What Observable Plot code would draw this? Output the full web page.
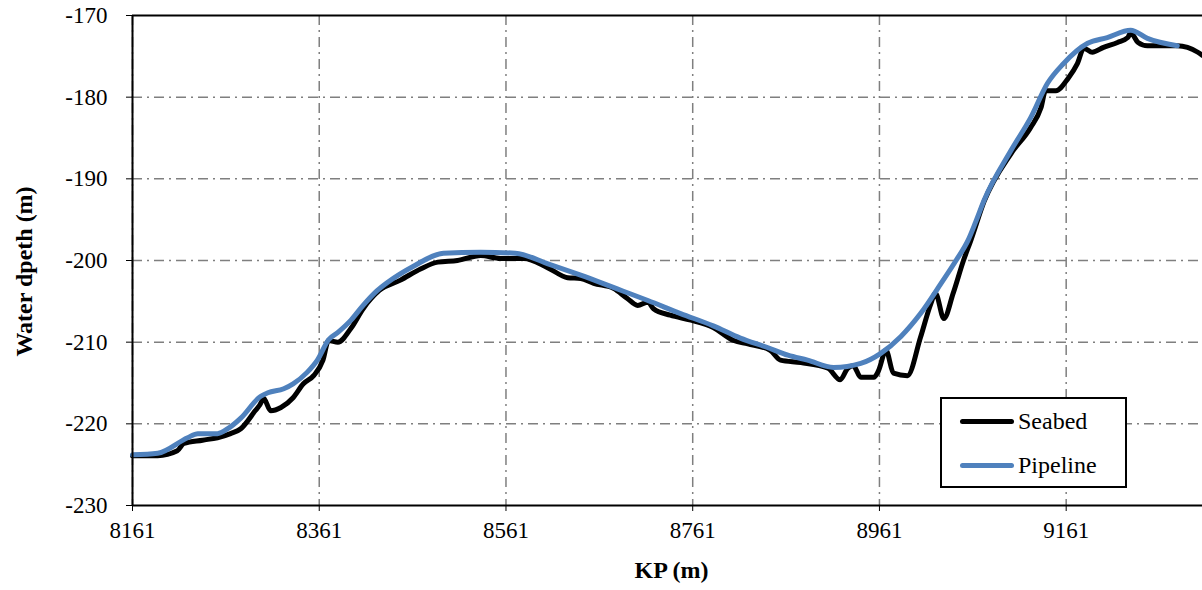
<!DOCTYPE html>
<html><head><meta charset="utf-8">
<script src="https://cdn.jsdelivr.net/npm/d3@7"></script>
<script src="https://cdn.jsdelivr.net/npm/@observablehq/plot@0.6"></script>
<style>
body{margin:0;background:#fff;font-family:"Liberation Serif","Times New Roman",Tinos,"DejaVu Serif",serif;}
#wrap{position:relative;width:1202px;height:590px;}
#wrap svg, #wrap svg g, #wrap svg text{font-family:"Liberation Serif","Times New Roman",Tinos,"DejaVu Serif",serif !important;}
#wrap svg g[aria-label="x-axis tick label"], #wrap svg g[aria-label="y-axis tick label"]{font-size:23px !important;}
#wrap svg g[aria-label="x-axis tick label"] text, #wrap svg g[aria-label="y-axis tick label"] text{font-size:23px !important;fill:#000;}
#legend{position:absolute;left:940px;top:397px;width:183px;height:87px;border:2px solid #000;background:#fff;font-size:24px;}
.item{position:absolute;left:18px;height:30px;line-height:30px;display:flex;align-items:center;}
.sw{width:54px;height:5px;border-radius:3px;margin-right:4px;}
</style></head>
<body><div id="wrap"></div>
<script>
const seabedKP = [8161,8188,8209,8216,8236,8252,8266,8277,8291,8300,8301,8309,8320,8333,8344,8355,8365,8371,8381,8395,8408,8425,8448,8470,8488,8509,8534,8555,8580,8606,8627,8641,8655,8676,8691,8702,8713,8719,8737,8759,8783,8805,8820,8844,8855,8877,8906,8919,8927,8933,8941,8955,8960,8968,8976,8991,9005,9016,9021,9030,9040,9051,9059,9073,9102,9123,9134,9139,9150,9163,9173,9180,9189,9201,9216,9227,9230,9238,9248,9280,9302,9307];
const seabedDepth = [-223.9,-223.9,-223.3,-222.4,-222.0,-221.7,-221.2,-220.6,-218.6,-217.1,-216.8,-218.4,-218.0,-216.8,-215.1,-214.1,-212.2,-209.8,-210.0,-208.3,-205.9,-203.7,-202.4,-201.0,-200.2,-200.0,-199.4,-199.75,-199.75,-200.9,-202.1,-202.2,-202.8,-203.4,-204.65,-205.5,-205.1,-205.9,-206.7,-207.3,-208.2,-209.8,-210.2,-211.0,-212.2,-212.5,-213.2,-214.6,-213.2,-212.9,-214.3,-214.3,-213.5,-211.0,-213.8,-214.1,-209.4,-205.3,-204.0,-207.1,-204.0,-200.0,-197.5,-192.8,-186.9,-183.7,-181.3,-179.2,-179.2,-177.7,-175.9,-174.0,-174.5,-173.9,-173.3,-172.7,-172.1,-173.3,-173.7,-173.7,-174.5,-174.9];
const pipeKP = [8161,8188,8220,8231,8252,8263,8277,8298,8306,8323,8333,8348,8359,8371,8381,8395,8408,8423,8434,8462,8494,8534,8571,8606,8641,8676,8713,8748,8783,8812,8841,8863,8884,8912,8941,8962,8984,9005,9027,9043,9056,9064,9073,9102,9123,9141,9158,9184,9205,9230,9248,9280];
const pipeDepth = [-223.8,-223.6,-221.7,-221.2,-221.2,-220.6,-219.3,-216.65,-216.2,-215.7,-215.1,-213.7,-212.2,-209.7,-208.8,-207.3,-205.5,-203.7,-202.7,-200.7,-199.1,-199.0,-199.1,-200.4,-201.8,-203.3,-204.9,-206.5,-208.0,-209.5,-210.65,-211.6,-212.2,-213.1,-212.6,-211.4,-209.3,-206.5,-202.8,-200.0,-197.5,-195.3,-192.65,-186.5,-182.5,-178.3,-175.9,-173.4,-172.7,-171.8,-172.8,-173.7];
const xTicks = [8161,8361,8561,8761,8961,9161];
const yTicks = [-230,-220,-210,-200,-190,-180,-170];

const seabed = seabedKP.map((k,i)=>({kp:k, d:seabedDepth[i]}));
const pipe = pipeKP.map((k,i)=>({kp:k, d:pipeDepth[i]}));

const font = '"Liberation Serif","Times New Roman",Tinos,"DejaVu Serif",serif';
const chart = Plot.plot({
  width:1202, height:590,
  marginLeft:132, marginRight:0, marginTop:15, marginBottom:85,
  x:{domain:[8161,9307]},
  y:{domain:[-230,-170]},
  marks:[
    Plot.gridX(xTicks,{stroke:"#7f7f7f",strokeOpacity:1,strokeWidth:1.5,strokeDasharray:"10,5,2,5"}),
    Plot.gridY(yTicks.slice(1,-1),{stroke:"#7f7f7f",strokeOpacity:1,strokeWidth:1.5,strokeDasharray:"10,5,2,5"}),
    Plot.axisX(xTicks,{tickSize:6,tickPadding:10,label:null,fontSize:23,fill:"#000",tickFormat:d=>String(d)}),
    Plot.axisY(yTicks,{tickSize:6,tickPadding:19,label:null,fontSize:23,fill:"#000",tickFormat:d=>String(d)}),
    Plot.line(seabed,{x:"kp",y:"d",stroke:"#000",strokeWidth:5,curve:"monotone-x"}),
    Plot.line(pipe,{x:"kp",y:"d",stroke:"#4f81bd",strokeWidth:5,curve:"monotone-x"}),
    Plot.ruleX([8161],{stroke:"#000",strokeWidth:2}),
    Plot.ruleY([-230,-170],{stroke:"#000",strokeWidth:2}),
    Plot.text(["Water dpeth (m)"],{frameAnchor:"left",textAnchor:"middle",rotate:-90,dx:-108,dy:11,fontWeight:"bold",fontSize:24,fontFamily:font,fill:"#000"}),
    Plot.text(["KP (m)"],{frameAnchor:"bottom",textAnchor:"middle",dx:4,dy:72,fontWeight:"bold",fontSize:24,fontFamily:font,fill:"#000"})
  ]
});
const wrap = document.getElementById("wrap");
wrap.appendChild(chart);
const legend = document.createElement("div");
legend.id = "legend";
legend.innerHTML = '<div class="item" style="top:7px"><div class="sw" style="background:#000"></div><span>Seabed</span></div>'+
  '<div class="item" style="top:51px"><div class="sw" style="background:#4f81bd"></div><span>Pipeline</span></div>';
wrap.appendChild(legend);
</script></body></html>
